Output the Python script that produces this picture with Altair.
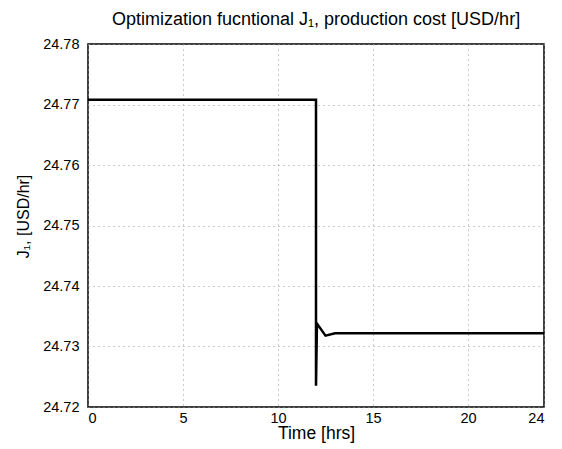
import altair as alt
import pandas as pd

hours = [0, 12, 12, 12.05, 12.5, 13, 24]
cost = [24.7708, 24.7708, 24.7235, 24.7338, 24.7318, 24.7322, 24.7322]
order = list(range(len(hours)))

df = pd.DataFrame({"t": hours, "j": cost, "o": order})

font = "Liberation Sans"

chart = alt.Chart(df).mark_line(color="black", strokeWidth=2.5, strokeJoin="miter").encode(
    x=alt.X("t:Q", scale=alt.Scale(domain=[0, 24], nice=False, zero=False),
            axis=alt.Axis(values=[0, 5, 10, 15, 20, 24], title="Time [hrs]",
                          titlePadding=0, titleFontSize=17.5, labelPadding=4)),
    y=alt.Y("j:Q", scale=alt.Scale(domain=[24.72, 24.78], nice=False, zero=False),
            axis=alt.Axis(values=[24.72, 24.73, 24.74, 24.75, 24.76, 24.77, 24.78],
                          format=".2f", title="J\u2081, [USD/hr]", titlePadding=11,
                          titleFontSize=16, titleY=172, labelPadding=9)),
    order="o:Q",
).properties(
    width=456, height=363,
    title=alt.TitleParams("Optimization fucntional J\u2081, production cost [USD/hr]",
                          font=font, fontSize=18, fontWeight="normal", color="black",
                          anchor="middle", offset=7),
    autosize=alt.AutoSizeParams(type="none"),
    padding={"left": 80, "top": 36, "right": 10, "bottom": 42},
).configure_view(
    stroke="black", strokeWidth=1.5
).configure_axis(
    labelFont=font, labelFontSize=14.5, labelColor="black",
    titleFont=font, titleFontWeight="normal", titleColor="black",
    grid=True, gridColor="#999999", gridDash=[1, 4], gridWidth=1,
    ticks=False, domain=False,
)

chart.save("out.html", embed_options={"renderer": "svg", "actions": False})
